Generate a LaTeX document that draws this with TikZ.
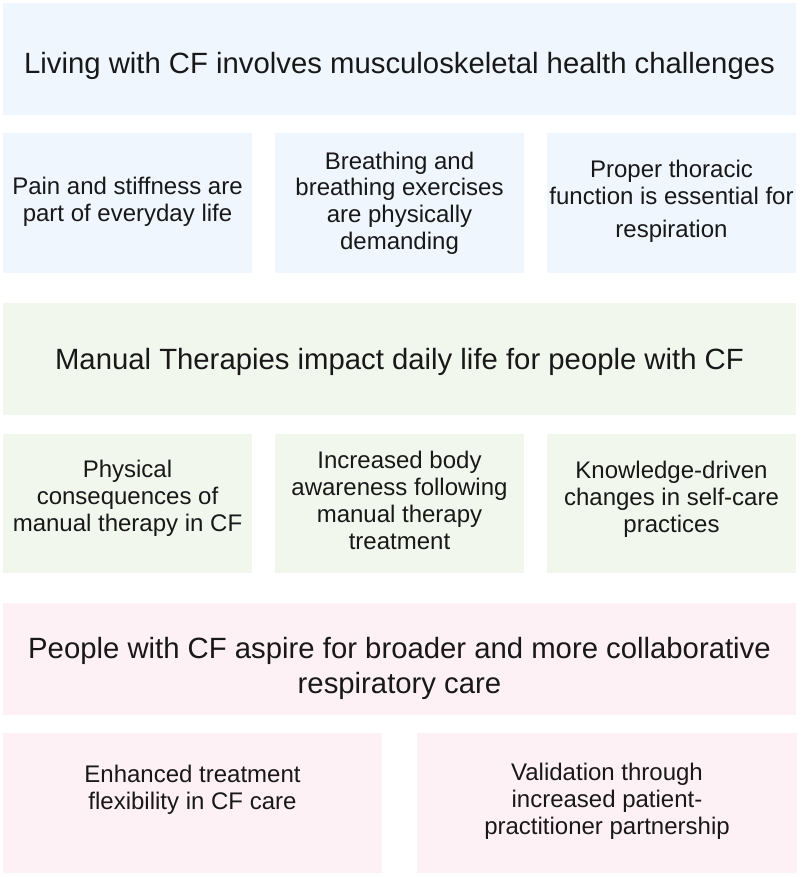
\documentclass[tikz,border=0pt]{standalone}
\usepackage{fontspec}
\setmainfont{Liberation Sans}
\definecolor{cfblue}{RGB}{239,246,253}
\definecolor{cfgreen}{RGB}{242,247,238}
\definecolor{cfpink}{RGB}{253,241,245}
\definecolor{ink}{RGB}{24,24,24}
\begin{document}
\begin{tikzpicture}[x=1pt,y=-1pt,
		card/.style={fill=#1,inner sep=0pt,minimum height=140pt,minimum width=249pt},
		theme/.style={text=ink,align=center,font=\fontsize{29.3}{35}\selectfont},
		sub/.style={text=ink,align=center,font=\fontsize{24}{26.8}\selectfont}]
		\useasboundingbox (0,0) rectangle (800,877);
		
		% living with CF
		\node[card=cfblue,minimum width=793pt,minimum height=112pt] (H1) at (399.5,59) {};
		\node[card=cfblue] (S1a) at (127.5,203) {};
		\node[card=cfblue] (S1b) at (399.5,203) {};
		\node[card=cfblue] (S1c) at (671.5,203) {};
		\node[theme] at ([yshift=-7pt]H1.center) {Living with CF involves musculoskeletal health challenges};
		\node[sub] at ([yshift=1pt]S1a.center) {Pain and stiffness are\\part of everyday life};
		\node[sub] at (S1b.center) {Breathing and\\breathing exercises\\are physically\\demanding};
		\node[sub] at ([yshift=2pt]S1c.center) {Proper thoracic\\function is essential for\\[6pt]respiration};
		
		% manual therapies
		\node[card=cfgreen,minimum width=793pt,minimum height=112pt] (H2) at (399.5,359) {};
		\node[card=cfgreen,minimum height=139pt] (S2a) at (127.5,503.5) {};
		\node[card=cfgreen,minimum height=139pt] (S2b) at (399.5,503.5) {};
		\node[card=cfgreen,minimum height=139pt] (S2c) at (671.5,503.5) {};
		\node[theme] at ([yshift=-3pt]H2.center) {Manual Therapies impact daily life for people with CF};
		\node[sub] at ([yshift=5pt]S2a.center) {Physical\\consequences of\\manual therapy in CF};
		\node[sub] at ([yshift=3pt]S2b.center) {Increased body\\awareness following\\manual therapy\\treatment};
		\node[sub] at ([yshift=4pt]S2c.center) {Knowledge-driven\\changes in self-care\\practices};
		
		% broader care
		\node[card=cfpink,minimum width=793pt,minimum height=112pt] (H3) at (399.5,659) {};
		\node[card=cfpink,minimum width=379pt] (S3a) at (192.5,803) {};
		\node[card=cfpink,minimum width=380pt] (S3b) at (607,803) {};
		\node[theme] at ([yshift=-9pt]H3.center) {People with CF aspire for broader and more collaborative\\respiratory care};
		\node[sub] at ([yshift=13pt]S3a.center) {Enhanced treatment\\flexibility in CF care};
		\node[sub] at ([yshift=2pt]S3b.center) {Validation through\\increased patient-\\practitioner partnership};
	\end{tikzpicture}
\end{document}
